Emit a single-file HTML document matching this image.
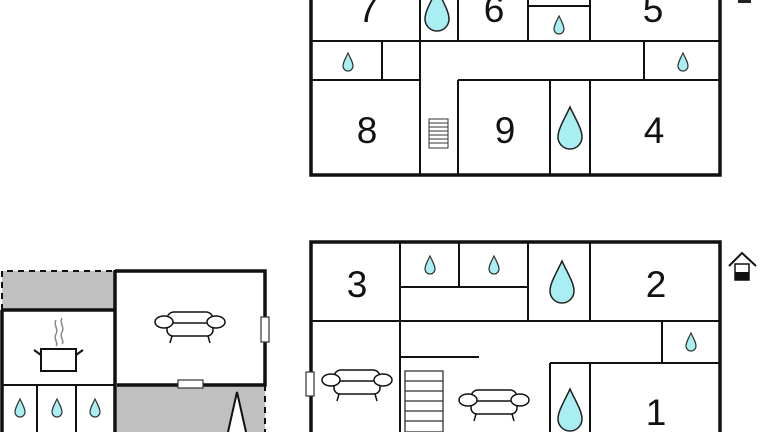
<!DOCTYPE html><html><head><style>body{margin:0;background:#fff}svg{display:block}text{font-family:"Liberation Sans",sans-serif;font-size:37px;fill:#111;text-anchor:middle}</style></head><body>
<svg width="768" height="432" viewBox="0 0 768 432" xmlns="http://www.w3.org/2000/svg">
<defs>
<path id="dS" d="M0,-9 C-3,-3 -5,1 -5,4 A5,5 0 0 0 5,4 C5,1 3,-3 0,-9Z" fill="#a8eef2" stroke="#333" stroke-width="1.2"/>
<path id="dL" d="M0,-21 C-6,-8 -12,1 -12,9 A12,12 0 0 0 12,9 C12,1 6,-8 0,-21Z" fill="#a8eef2" stroke="#222" stroke-width="1.5"/>
<g id="sofa" fill="#fff" stroke="#111" stroke-width="1.5"><rect x="-23" y="-14" width="46" height="16" rx="7"/><rect x="-23" y="-3" width="46" height="13" rx="6"/><ellipse cx="-26" cy="-4" rx="9" ry="6"/><ellipse cx="26" cy="-4" rx="9" ry="6"/><path d="M-18,10 l-2,7 M18,10 l2,7" fill="none"/></g>
</defs>
<!-- top plan -->
<g stroke="#111" stroke-width="2" fill="none">
<path d="M312,41H720 M312,80H420 M458,80H720 M420,0V175 M458,0V41 M528,0V41 M590,0V41 M528,6H590 M382,41V80 M644,41V80 M458,80V175 M550,80V175 M590,80V175"/>
</g>
<path d="M311,0V175H720V0" stroke="#111" stroke-width="3.5" fill="none"/>
<text x="368" y="22">7</text><text x="494" y="22">6</text><text x="653" y="22">5</text>
<text x="367" y="143">8</text><text x="505" y="143">9</text><text x="654" y="143">4</text>
<use href="#dL" x="437" y="10"/><use href="#dS" x="559" y="25"/><use href="#dS" x="348" y="62"/><use href="#dS" x="683" y="62"/><use href="#dL" x="570" y="128"/>
<g stroke="#333" stroke-width="1" fill="#fff"><rect x="429" y="119" width="19" height="29"/><path d="M429,123H448M429,127H448M429,131H448M429,135H448M429,139H448M429,143H448"/></g>
<rect x="738" y="0" width="13" height="3" fill="#222"/>
<!-- bottom plan -->
<g stroke="#111" stroke-width="2" fill="none">
<path d="M312,321H720 M400,242V432 M459,242V287 M400,287H528 M528,242V321 M590,242V321 M662,321V363 M550,363H720 M550,363V432 M590,363V432 M400,357H479"/>
</g>
<path d="M311,432V242H720V432" stroke="#111" stroke-width="3.5" fill="none"/>
<rect x="306" y="372" width="8" height="24" fill="#fff" stroke="#333" stroke-width="1.2"/>
<text x="357" y="297">3</text><text x="656" y="297">2</text><text x="656" y="425">1</text>
<use href="#dS" x="430" y="265"/><use href="#dS" x="494" y="265"/><use href="#dL" x="562" y="282"/><use href="#dS" x="691" y="342"/><use href="#dL" x="570" y="410"/>
<g stroke="#333" stroke-width="1.3" fill="#fff"><rect x="405" y="371" width="38" height="61"/><path d="M405,381H443M405,391H443M405,401H443M405,411H443M405,421H443"/></g>
<use href="#sofa" x="357" y="384"/><use href="#sofa" x="494" y="404"/>
<g><path d="M729,266L742,253L756,266" fill="none" stroke="#111" stroke-width="2"/><rect x="735" y="264" width="14" height="16" fill="#fff" stroke="#111" stroke-width="1.5"/><rect x="735" y="272" width="14" height="8" fill="#111"/></g>
<!-- left building -->
<rect x="2" y="271" width="113" height="39" fill="#c0c0c0"/>
<rect x="117" y="385" width="148" height="47" fill="#c0c0c0"/>
<path d="M2,310V271H115 M265,385V432" stroke="#111" stroke-width="2" stroke-dasharray="6,5" fill="none"/>
<path d="M115,271H265V385H117 M115,270V310H2 M2,310V432 M115,310V432" stroke="#111" stroke-width="3.5" fill="none"/>
<path d="M2,385H115 M37,385V432 M76,385V432" stroke="#111" stroke-width="2" fill="none"/>
<use href="#dS" x="20" y="408"/><use href="#dS" x="57" y="408"/><use href="#dS" x="95" y="408"/>
<rect x="261" y="317" width="8" height="25" fill="#fff" stroke="#333" stroke-width="1.2"/>
<rect x="178" y="380" width="25" height="8" fill="#fff" stroke="#333" stroke-width="1.2"/>
<use href="#sofa" x="190" y="326"/>
<g stroke="#111" stroke-width="2" fill="#fff"><rect x="41" y="349" width="35" height="22"/><path d="M41,355l-7,-5 M76,355l7,-5" fill="none"/></g>
<path d="M56,320c-3,5 3,9 0,14c-3,5 3,9 0,12 M62,318c-3,5 3,9 0,14c-3,5 3,9 0,12" stroke="#888" stroke-width="1.5" fill="none"/>
<path d="M228,432L237,392L246,432" stroke="#111" stroke-width="2" fill="#fff"/>
</svg></body></html>
